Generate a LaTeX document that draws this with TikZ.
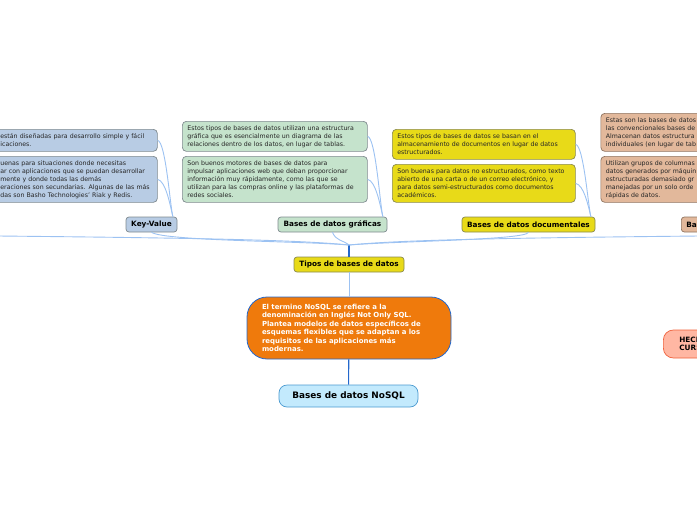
\documentclass[tikz,border=0pt]{standalone}
\usepackage{fontspec}
\setmainfont{DejaVu Sans}
\definecolor{blueFill}{HTML}{B8CCE4}
\definecolor{greenFill}{HTML}{C5E3CC}
\definecolor{yellowFill}{HTML}{E8DA18}
\definecolor{tanFill}{HTML}{E2B89B}
\definecolor{orangeFill}{HTML}{EF7A0C}
\definecolor{rootFill}{HTML}{C3EAFD}
\definecolor{rootEdge}{HTML}{4A9AD0}
\definecolor{salmonFill}{HTML}{FFB7A3}
\definecolor{salmonEdge}{HTML}{F0603A}
\definecolor{grayEdge}{HTML}{7F8A8F}
\definecolor{oliveEdge}{HTML}{8A8A50}
\definecolor{brownEdge}{HTML}{8F7460}
\definecolor{lightLink}{HTML}{9CC2F2}
\definecolor{darkLink}{HTML}{2468CC}
\tikzset{
	notebox/.style={rectangle,draw,rounded corners=4pt,line width=0.7pt,align=left,inner xsep=5pt,inner ysep=0pt,anchor=north west,font=\fontsize{6.25}{8}\selectfont},
	bluebox/.style={notebox,fill=blueFill,draw=grayEdge,text=black!85},
	greenbox/.style={notebox,fill=greenFill,draw=grayEdge,text=black!85},
	yellowbox/.style={notebox,fill=yellowFill,draw=oliveEdge,text=black!85},
	tanbox/.style={notebox,fill=tanFill,draw=brownEdge,text=black!85},
	titlebox/.style={rectangle,draw,rounded corners=3pt,line width=0.7pt,align=center,inner sep=0pt,font=\fontsize{7.3}{8.5}\selectfont\bfseries,text=black},
	thin link/.style={draw=lightLink,line width=0.9pt},
	dark link/.style={draw=darkLink,line width=1.1pt}
}
\begin{document}
\begin{tikzpicture}[x=1pt,y=-1pt]
	\useasboundingbox (0,0) rectangle (697,520);

	\node[titlebox,fill=rootFill,draw=rootEdge,rounded corners=8pt,minimum width=139pt,minimum height=22pt,font=\fontsize{8.9}{10}\selectfont\bfseries] (root) at (348.5,396) {Bases de datos NoSQL};
	\node[rectangle,draw=darkLink,fill=orangeFill,rounded corners=20pt,line width=0.8pt,minimum width=204pt,minimum height=62pt,inner xsep=15pt,inner ysep=0pt,text width=174pt,align=left,text=white,font=\fontsize{6.95}{8.4}\selectfont\bfseries] (intro) at (349,328) {El termino NoSQL se refiere a la\\denominación en Inglés Not Only SQL.\\Plantea modelos de datos específicos de\\esquemas flexibles que se adaptan a los\\requisitos de las aplicaciones más\\modernas.};
	\node[titlebox,fill=yellowFill,draw=oliveEdge,minimum width=110pt,minimum height=15pt] (tipos) at (349,264.5) {Tipos de bases de datos};
	\coordinate (hub) at (349,245);
	\coordinate (offleft) at (-2,236);
	\coordinate (offright) at (699,236);

	\node[titlebox,fill=blueFill,draw=grayEdge,minimum width=51pt,minimum height=15pt] (keyvalue) at (151.5,224.5) {Key-Value};
	\node[titlebox,fill=greenFill,draw=grayEdge,minimum width=109pt,minimum height=15pt] (graficas) at (332.5,224.5) {Bases de datos gráficas};
	\node[titlebox,fill=yellowFill,draw=oliveEdge,minimum width=133pt,minimum height=15pt] (documentales) at (528.5,224.5) {Bases de datos documentales};
	\node[titlebox,fill=tanFill,draw=brownEdge,minimum height=15pt,anchor=west,align=left,inner xsep=5pt,text width=30pt] (columnas) at (681,224.5) {Bas};

	\node[bluebox,text width=152pt,minimum height=22pt] (kv1) at (-5,129) {están diseñadas para desarrollo simple y fácil\\icaciones.};
	\node[bluebox,text width=152pt,minimum height=46pt] (kv2) at (-5,156) {uenas para situaciones donde necesitas\\ar con aplicaciones que se puedan desarrollar\\mente y donde todas las demás\\eraciones son secundarias. Algunas de las más\\das son Basho Technologies' Riak y Redis.};

	\node[greenbox,text width=175pt,minimum height=30pt] (gr1) at (182,121) {Estos tipos de bases de datos utilizan una estructura\\gráfica que es esencialmente un diagrama de las\\relaciones dentro de los datos, en lugar de tablas.};
	\node[greenbox,text width=175pt,minimum height=46pt] (gr2) at (182,156) {Son buenos motores de bases de datos para\\impulsar aplicaciones web que deban proporcionar\\información muy rápidamente, como las que se\\utilizan para las compras online y las plataformas de\\redes sociales.};

	\node[yellowbox,text width=173pt,minimum height=30pt] (doc1) at (392,129) {Estos tipos de bases de datos se basan en el\\almacenamiento de documentos en lugar de datos\\estructurados.};
	\node[yellowbox,text width=173pt,minimum height=38pt] (doc2) at (392,164) {Son buenas para datos no estructurados, como texto\\abierto de una carta o de un correo electrónico, y\\para datos semi-estructurados como documentos\\académicos.};

	\node[tanbox,text width=100pt,minimum height=38pt] (col1) at (600.5,113) {Estas son las bases de datos\\las convencionales bases de\\Almacenan datos estructura\\individuales (en lugar de tab};
	\node[tanbox,text width=100pt,minimum height=46pt] (col2) at (600.5,156) {Utilizan grupos de columnas\\datos generados por máquin\\estructuradas demasiado gr\\manejadas por un solo orde\\rápidas de datos.};

	\node[titlebox,fill=salmonFill,draw=salmonEdge,rounded corners=10pt,minimum height=28pt,anchor=west,align=left,inner xsep=16pt,text width=30pt] (hechos) at (663,344) {HECH\\CURS};

	\path[dark link] (intro) -- (root);
	\path[thin link] (intro) -- (tipos);
	\path[dark link] (tipos) -- (hub);
	\path[thin link] (hub) .. controls (300,240) and (200,238) .. (offleft);
	\path[thin link] (hub) .. controls (400,240) and (500,238) .. (offright);
	\path[thin link] (hub) .. controls (300,241) and (165,241) .. (keyvalue.south);
	\path[thin link] (hub) .. controls (343,240) and (336,241) .. (graficas.south);
	\path[thin link] (hub) .. controls (400,241) and (525,240) .. (documentales.south);

	\foreach \leaf/\parent in {kv1/keyvalue,kv2/keyvalue,gr1/graficas,gr2/graficas,doc1/documentales,doc2/documentales}
		\path[thin link] (\leaf.east) .. controls +(8,2) and +(-3,-13) .. ([xshift=-4.5pt]\parent.north east);
\end{tikzpicture}
\end{document}
